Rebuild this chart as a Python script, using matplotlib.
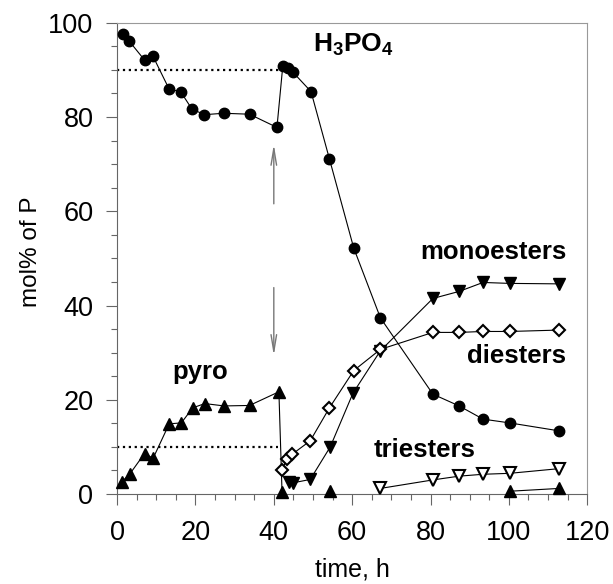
import matplotlib
matplotlib.use("Agg")
import matplotlib.pyplot as plt
from matplotlib.ticker import MultipleLocator

plt.rcParams['font.family'] = ['Liberation Sans', 'DejaVu Sans']
plt.rcParams['mathtext.fontset'] = 'custom'
plt.rcParams['mathtext.rm'] = 'Liberation Sans'
plt.rcParams['mathtext.bf'] = 'Liberation Sans:bold'

# H3PO4 (filled circles)
h3po4_t = [1.5, 3.0, 7.0, 9.1, 13.3, 16.2, 19.1, 22.3, 27.2, 33.8, 40.8, 42.3, 43.5, 44.9,
           49.5, 54.2, 60.4, 67.2, 80.6, 87.3, 93.4, 100.2, 112.9]
h3po4_v = [97.6, 96.2, 92.1, 93.0, 85.9, 85.4, 81.7, 80.5, 80.8, 80.6, 77.8, 90.9, 90.4, 89.5,
           85.4, 71.1, 52.2, 37.4, 21.2, 18.7, 15.9, 15.1, 13.4]

# pyro (filled up triangles)
pyro_t1 = [1.2, 3.2, 7.0, 9.2, 13.3, 16.4, 19.3, 22.4, 27.3, 33.8, 41.3, 42.1]
pyro_v1 = [2.6, 4.2, 8.6, 7.6, 14.9, 15.1, 18.3, 19.2, 18.7, 18.8, 21.7, 0.4]
pyro_t2 = [54.4]
pyro_v2 = [0.6]
pyro_t3 = [100.2, 112.9]
pyro_v3 = [0.6, 1.2]

# monoesters (filled down triangles)
mono_t = [43.8, 45.0, 49.3, 54.4, 60.2, 67.2, 80.6, 87.3, 93.4, 100.2, 112.9]
mono_v = [2.6, 2.4, 3.1, 10.0, 21.4, 30.4, 41.5, 43.0, 44.9, 44.7, 44.6]

# diesters (open diamonds)
di_t = [42.0, 43.4, 44.6, 49.3, 54.2, 60.4, 67.2, 80.6, 87.3, 93.4, 100.2, 112.9]
di_v = [5.1, 7.4, 8.4, 11.3, 18.3, 26.2, 30.7, 34.3, 34.3, 34.5, 34.5, 34.8]

# triesters (open down triangles)
tri_t = [67.2, 80.6, 87.3, 93.4, 100.2, 112.9]
tri_v = [1.2, 3.0, 3.8, 4.2, 4.4, 5.4]

fig = plt.figure(figsize=(6.13, 5.84), dpi=100)
ax = fig.add_axes([0.191, 0.154, 0.767, 0.807])

lw = 0.8
ax.plot(h3po4_t, h3po4_v, '-o', color='black', lw=lw, ms=7.5, clip_on=False, zorder=3)
ax.plot(pyro_t1, pyro_v1, '-^', color='black', lw=lw, ms=9, clip_on=False, zorder=3)
ax.plot(pyro_t2, pyro_v2, '^', color='black', ms=9, clip_on=False, zorder=3)
ax.plot(pyro_t3, pyro_v3, '-^', color='black', lw=lw, ms=9, clip_on=False, zorder=3)
ax.plot(mono_t, mono_v, '-v', color='black', lw=lw, ms=9, clip_on=False, zorder=3)
ax.plot(di_t, di_v, '-D', color='black', mfc='white', mew=1.5, lw=lw, ms=6.5, clip_on=False, zorder=4)
ax.plot(tri_t, tri_v, '-v', color='black', mfc='white', mew=1.5, lw=lw, ms=9, clip_on=False, zorder=4)

# dotted reference lines
ax.plot([0, 41.5], [90, 90], ':', color='black', lw=1.6, zorder=2)
ax.plot([0, 41.0], [10, 10], ':', color='black', lw=1.6, zorder=2)

# arrows
ax.annotate('', xy=(40.0, 74.8), xytext=(40.0, 61.0),
            arrowprops=dict(arrowstyle='->,head_length=1.2,head_width=0.2', color='#777777', lw=1.0))
ax.annotate('', xy=(40.0, 28.8), xytext=(40.0, 44.4),
            arrowprops=dict(arrowstyle='->,head_length=1.2,head_width=0.2', color='#777777', lw=1.0))

fs = 18.5
ax.text(50.1, 93.9, r'$\mathbf{H_3PO_4}$', fontsize=19, va='baseline', ha='left')
ax.text(114.6, 49.8, 'monoesters', fontsize=fs, fontweight='bold', va='baseline', ha='right')
ax.text(114.6, 27.9, 'diesters', fontsize=fs, fontweight='bold', va='baseline', ha='right')
ax.text(65.6, 7.8, 'triesters', fontsize=fs, fontweight='bold', va='baseline', ha='left')
ax.text(14.0, 24.4, 'pyro', fontsize=fs, fontweight='bold', va='baseline', ha='left')

ax.set_xlim(0, 120)
ax.set_ylim(0, 100)
ax.xaxis.set_major_locator(MultipleLocator(20))
ax.xaxis.set_minor_locator(MultipleLocator(5))
ax.yaxis.set_major_locator(MultipleLocator(20))
ax.yaxis.set_minor_locator(MultipleLocator(5))
ax.tick_params(which='major', direction='out', length=8, width=0.8, color='#666666', labelsize=19.5)
ax.tick_params(axis='x', which='major', pad=11)
ax.tick_params(axis='y', which='major', pad=9)
ax.tick_params(which='minor', direction='out', length=4, width=0.8, color='#666666')
for s in ['left', 'bottom']:
    ax.spines[s].set_color('#666666')
for s in ['top', 'right']:
    ax.spines[s].set_color('#999999')

ax.set_xlabel('time, h', fontsize=18, labelpad=8)
ax.set_ylabel('mol% of P', fontsize=17.5)
ax.yaxis.set_label_coords(-0.16, 0.514)

fig.savefig('out.png', dpi=100)
